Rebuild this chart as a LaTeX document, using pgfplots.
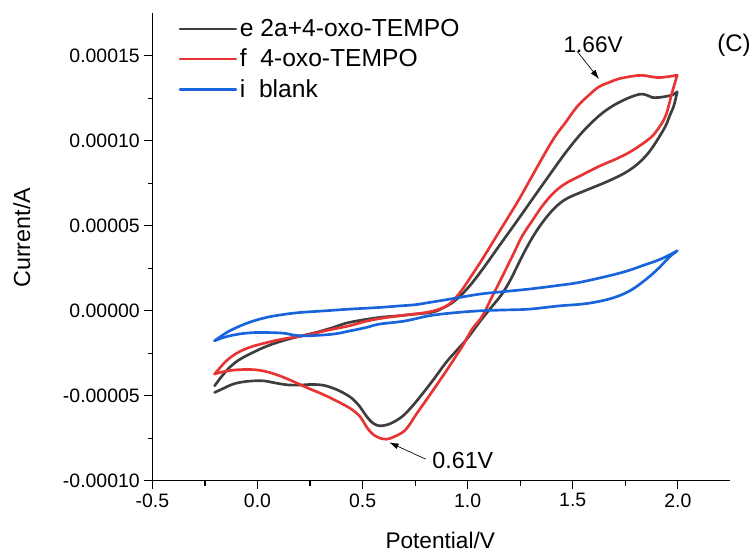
\documentclass[border=0pt]{standalone}
\usepackage{fontspec}
\setmainfont{Liberation Sans}
\usepackage{pgfplots}
\pgfplotsset{compat=1.18}
\usetikzlibrary{arrows.meta}
\definecolor{cvblack}{RGB}{62,62,62}
\definecolor{cvred}{RGB}{232,52,52}
\definecolor{cvblue}{RGB}{24,100,218}
\begin{document}
\begin{tikzpicture}
\begin{axis}[
  width=434.25pt, height=351.3pt, scale only axis,
  xmin=-0.5, xmax=2.25, ymin=-0.0001, ymax=0.000175,
  axis lines=left, axis line style={-, line width=0.9pt, black},
  tick align=outside, tick style={line width=0.9pt, black},
  major tick length=6pt, minor tick length=3.5pt,
  tick label style={font=\fontsize{14.6}{17}\selectfont},
  xtick={-0.5,0,0.5,1,1.5,2}, xticklabels={-0.5,0.0,0.5,1.0,1.5,2.0},
  ytick={-0.0001,-0.00005,0,0.00005,0.0001,0.00015},
  yticklabels={-0.00010,-0.00005,0.00000,0.00005,0.00010,0.00015},
  minor x tick num=1, minor y tick num=1,
  scaled y ticks=false,
  clip=false,
  every axis y label/.style={at={(axis description cs:-0.226,0.52)}, rotate=90, anchor=center, font=\fontsize{17.5}{20}\selectfont},
  every axis x label/.style={at={(axis description cs:0.498,-0.128)}, anchor=center, font=\fontsize{17}{20}\selectfont},
  xlabel={Potential/V}, ylabel={Current/A},
  legend style={draw=none, fill=none, at={(axis description cs:0.045,0.993)}, anchor=north west, font=\fontsize{18.5}{22}\selectfont, row sep=3.8pt, inner sep=0pt},
  legend cell align=left,
  legend image code/.code={\draw[#1, line width=2pt] (0pt,0pt) -- (42pt,0pt);},
  every axis plot/.append style={line width=2pt, line join=round, line cap=round, smooth, tension=0.6},
]
% e: 2a+4-oxo-TEMPO, forward scan
\addplot[cvblack] coordinates {
(-0.204,-4.41e-5) (-0.17,-3.85e-5) (-0.133,-3.33e-5) (-0.09,-2.9e-5) (-0.038,-2.55e-5)
(0.04,-2.1e-5) (0.12,-1.76e-5) (0.2,-1.5e-5) (0.279,-1.27e-5) (0.36,-0.98e-5)
(0.437,-0.68e-5) (0.58,-0.39e-5) (0.675,-0.29e-5) (0.76,-0.18e-5) (0.833,-0.08e-5)
(0.88,0.15e-5) (0.928,0.49e-5) (0.975,1.0e-5) (1.023,1.67e-5) (1.08,2.6e-5)
(1.15,3.82e-5) (1.23,5.2e-5) (1.308,6.57e-5) (1.39,8.0e-5) (1.467,9.32e-5)
(1.545,1.05e-4) (1.625,1.147e-4) (1.69,1.205e-4) (1.752,1.245e-4) (1.80,1.268e-4)
(1.831,1.275e-4) (1.86,1.265e-4) (1.878,1.255e-4) (1.91,1.255e-4) (1.942,1.261e-4)
(1.975,1.27e-4) (1.997,1.288e-4)
};
\addlegendentry{e 2a+4-oxo-TEMPO}
% e: reverse scan
\addplot[cvblack, forget plot] coordinates {
(1.997,1.288e-4)
(1.981,1.206e-4) (1.962,1.15e-4) (1.942,1.088e-4) (1.905,1.01e-4) (1.862,9.32e-5)
(1.81,8.65e-5) (1.752,8.14e-5) (1.69,7.75e-5) (1.625,7.4e-5) (1.545,7.0e-5)
(1.467,6.57e-5) (1.41,6.0e-5) (1.356,5.2e-5) (1.315,4.45e-5) (1.277,3.63e-5)
(1.237,2.65e-5) (1.197,1.67e-5) (1.158,0.9e-5) (1.118,0.29e-5) (1.06,-0.6e-5)
(1.0,-1.6e-5) (0.95,-2.3e-5) (0.897,-3.04e-5) (0.84,-4.0e-5) (0.79,-4.8e-5)
(0.738,-5.59e-5) (0.69,-6.2e-5) (0.643,-6.57e-5) (0.61,-6.72e-5) (0.58,-6.76e-5)
(0.555,-6.65e-5) (0.532,-6.4e-5) (0.51,-6.05e-5) (0.485,-5.6e-5) (0.45,-5.15e-5)
(0.405,-4.8e-5) (0.36,-4.55e-5) (0.31,-4.37e-5) (0.25,-4.33e-5) (0.2,-4.37e-5)
(0.14,-4.35e-5) (0.089,-4.25e-5) (0.03,-4.12e-5) (-0.022,-4.12e-5) (-0.07,-4.18e-5)
(-0.117,-4.31e-5) (-0.16,-4.55e-5) (-0.204,-4.8e-5)
};
% f: 4-oxo-TEMPO, forward scan
\addplot[cvred] coordinates {
(-0.204,-3.72e-5) (-0.175,-3.3e-5) (-0.148,-2.94e-5) (-0.1,-2.5e-5) (-0.038,-2.15e-5)
(0.04,-1.88e-5) (0.12,-1.66e-5) (0.232,-1.43e-5) (0.33,-1.15e-5) (0.437,-0.88e-5)
(0.52,-0.6e-5) (0.6,-0.42e-5) (0.7,-0.25e-5) (0.8,-0.1e-5) (0.865,0.1e-5)
(0.912,0.39e-5) (0.945,0.8e-5) (0.976,1.28e-5) (1.02,2.1e-5) (1.07,3.04e-5)
(1.13,4.25e-5) (1.197,5.59e-5) (1.245,6.57e-5) (1.31,8.0e-5) (1.388,9.7e-5)
(1.43,1.05e-4) (1.467,1.11e-4) (1.52,1.2e-4) (1.578,1.27e-4) (1.625,1.318e-4)
(1.672,1.343e-4) (1.72,1.365e-4) (1.783,1.38e-4) (1.83,1.385e-4) (1.87,1.378e-4)
(1.9,1.372e-4) (1.94,1.375e-4) (1.997,1.386e-4)
};
\addlegendentry{f\ \ 4-oxo-TEMPO}
% f: reverse scan
\addplot[cvred, forget plot] coordinates {
(1.997,1.386e-4)
(1.973,1.285e-4) (1.942,1.147e-4) (1.9,1.06e-4) (1.862,1.01e-4) (1.78,9.4e-5)
(1.704,8.92e-5) (1.625,8.5e-5) (1.545,8.0e-5) (1.467,7.5e-5) (1.41,6.95e-5)
(1.356,6.18e-5) (1.31,5.35e-5) (1.26,4.41e-5) (1.22,3.4e-5) (1.182,2.45e-5)
(1.15,1.65e-5) (1.118,0.88e-5) (1.07,-0.3e-5) (1.02,-1.1e-5) (0.976,-2.06e-5)
(0.9,-3.5e-5) (0.817,-5e-5) (0.76,-6.0e-5) (0.707,-6.96e-5) (0.66,-7.35e-5)
(0.612,-7.55e-5) (0.57,-7.42e-5) (0.54,-7.15e-5) (0.515,-6.75e-5) (0.49,-6.25e-5)
(0.46,-5.9e-5) (0.421,-5.59e-5) (0.327,-5.0e-5) (0.232,-4.5e-5) (0.17,-4.15e-5)
(0.105,-3.82e-5) (0.05,-3.6e-5) (-0.006,-3.47e-5) (-0.06,-3.45e-5) (-0.117,-3.49e-5)
(-0.17,-3.6e-5) (-0.204,-3.72e-5)
};
% i: blank, forward scan
\addplot[cvblue] coordinates {
(-0.204,-1.76e-5) (-0.16,-1.38e-5) (-0.117,-1.08e-5) (-0.04,-0.68e-5) (0.042,-0.39e-5)
(0.12,-0.22e-5) (0.2,-0.1e-5) (0.32,0.0) (0.437,0.1e-5) (0.58,0.2e-5)
(0.675,0.29e-5) (0.75,0.36e-5) (0.817,0.49e-5) (0.93,0.72e-5) (1.055,0.98e-5)
(1.17,1.13e-5) (1.292,1.28e-5) (1.435,1.5e-5) (1.53,1.67e-5) (1.672,2.06e-5)
(1.76,2.35e-5) (1.83,2.65e-5) (1.92,3.05e-5) (1.997,3.53e-5)
};
\addlegendentry{i\ \ blank}
% i: reverse scan
\addplot[cvblue, forget plot] coordinates {
(1.997,3.53e-5)
(1.958,3.14e-5) (1.9,2.4e-5) (1.83,1.67e-5) (1.76,1.1e-5) (1.672,0.69e-5)
(1.56,0.42e-5) (1.435,0.29e-5) (1.292,0.1e-5) (1.17,0.05e-5) (1.055,0.0)
(0.93,-0.12e-5) (0.817,-0.29e-5) (0.7,-0.6e-5) (0.58,-0.78e-5) (0.517,-0.98e-5)
(0.44,-1.18e-5) (0.358,-1.37e-5) (0.232,-1.47e-5) (0.17,-1.42e-5) (0.12,-1.31e-5)
(0.01,-1.27e-5) (-0.06,-1.32e-5) (-0.117,-1.43e-5) (-0.17,-1.6e-5) (-0.204,-1.76e-5)
};
\node[font=\fontsize{17}{20}\selectfont] at (axis cs:1.597,1.563e-4) {1.66V};
\draw[-{Latex[length=7pt,width=4.5pt]}, line width=0.5pt] (axis cs:1.52,1.528e-4) -- (axis cs:1.625,1.364e-4);
\node[font=\fontsize{17.5}{20}\selectfont] at (axis cs:0.977,-8.78e-5) {0.61V};
\draw[-{Latex[length=7pt,width=4.5pt]}, line width=0.5pt] (axis cs:0.80,-8.72e-5) -- (axis cs:0.627,-7.74e-5);
\node[font=\fontsize{18}{21}\selectfont] at (axis cs:2.267,1.563e-4) {(C)};
\path (rel axis cs:0,0) ++(-114.5pt,-58pt) coordinate (bbA);
\path (rel axis cs:1,1) ++(17.5pt,10pt) coordinate (bbB);
\end{axis}
\path (bbA) (bbB);
\end{tikzpicture}
\end{document}
